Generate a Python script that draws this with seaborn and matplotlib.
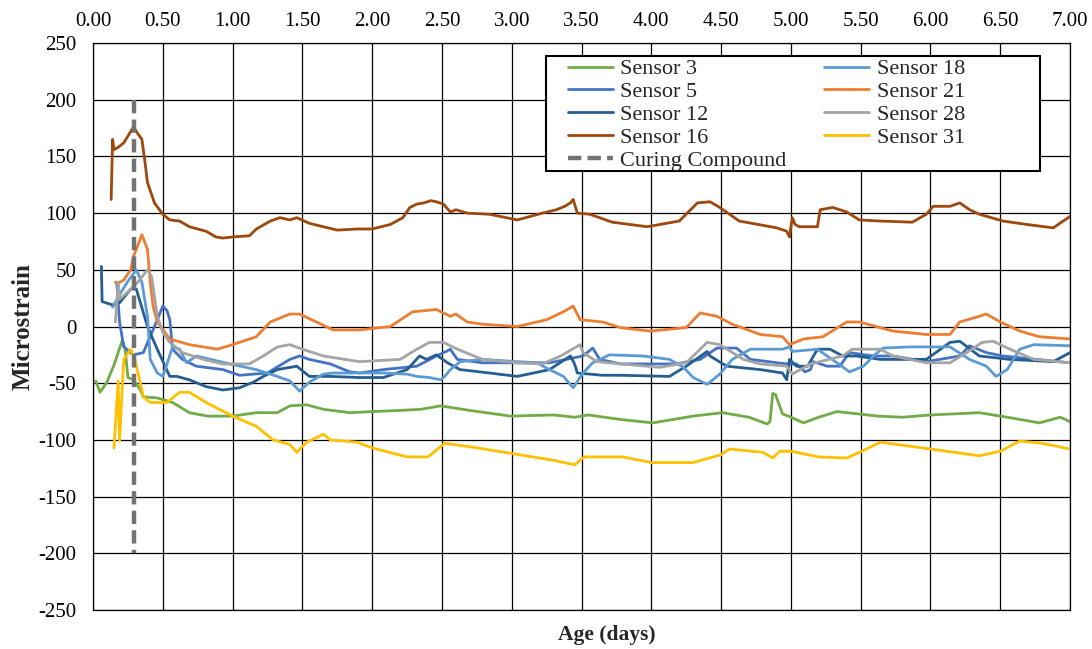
import numpy as np
import pandas as pd
import matplotlib
matplotlib.use("Agg")
import matplotlib.pyplot as plt
from matplotlib.patches import Rectangle
import seaborn as sns

# ---- strain readings (age in days, microstrain) ----
s3_day = [0.02, 0.05, 0.10, 0.15, 0.21, 0.23, 0.25, 0.29, 0.34, 0.36, 0.46, 0.57, 0.69, 0.82, 1.00,
          1.17, 1.32, 1.41, 1.53, 1.65, 1.84, 2.00, 2.20, 2.35, 2.49, 2.70, 2.99, 3.30, 3.45, 3.55,
          3.78, 4.01, 4.30, 4.51, 4.70, 4.83, 4.85, 4.87, 4.89, 4.91, 4.94, 5.00, 5.09, 5.20, 5.33,
          5.62, 5.80, 6.00, 6.35, 6.55, 6.78, 6.93, 7.00]
s3_val = [-48, -58, -49, -34, -12, -20, -45, -47, -56, -62, -63, -67, -76, -79, -79,
          -76, -76, -70, -69, -73, -76, -75, -74, -73, -70, -74, -79, -78, -80, -78,
          -82, -85, -79, -76, -80, -86, -84, -59, -60, -67, -77, -80, -85, -80, -75,
          -79, -80, -78, -76, -80, -85, -80, -84]

s5_day = [0.17, 0.19, 0.22, 0.29, 0.36, 0.43, 0.50, 0.53, 0.55, 0.57, 0.64, 0.74, 0.93, 1.05, 1.25,
          1.41, 1.48, 1.55, 1.70, 1.84, 1.91, 2.08, 2.32, 2.46, 2.53, 2.56, 2.61, 2.79, 3.04, 3.27,
          3.51, 3.58, 3.63, 3.78, 4.18, 4.35, 4.47, 4.61, 4.71, 4.97, 5.04, 5.10, 5.14, 5.16, 5.26,
          5.35, 5.42, 5.59, 5.73, 5.97, 6.21, 6.28, 6.40, 6.52, 6.76, 7.00]
s5_val = [39, 4, -18, -25, -23, -3, 18, 14, 6, -20, -29, -35, -38, -43, -41,
          -29, -26, -29, -33, -40, -41, -38, -35, -26, -22, -20, -29, -32, -32, -32,
          -26, -19, -29, -33, -33, -29, -19, -19, -29, -33, -33, -40, -38, -31, -35,
          -35, -23, -26, -26, -31, -26, -17, -23, -26, -29, -32]

s12_day = [0.06, 0.065, 0.14, 0.19, 0.27, 0.31, 0.39, 0.46, 0.55, 0.60, 0.69, 0.81, 0.93, 1.05, 1.15,
           1.22, 1.32, 1.46, 1.55, 1.70, 1.91, 2.08, 2.25, 2.34, 2.39, 2.46, 2.54, 2.63, 2.84, 3.04,
           3.27, 3.42, 3.45, 3.47, 3.65, 3.78, 4.13, 4.25, 4.40, 4.42, 4.54, 4.78, 4.94, 4.97, 4.99,
           5.04, 5.12, 5.19, 5.28, 5.37, 5.47, 5.64, 5.97, 6.14, 6.21, 6.35, 6.57, 6.88, 7.00]
s12_val = [53, 22, 19, 21, 33, 33, 0, -20, -44, -44, -47, -53, -56, -54, -49,
           -44, -38, -35, -44, -44, -45, -45, -38, -26, -29, -25, -32, -38, -41, -44,
           -38, -26, -33, -41, -43, -43, -44, -35, -22, -26, -35, -38, -41, -47, -29,
           -35, -35, -20, -20, -26, -26, -29, -29, -14, -13, -26, -29, -31, -23]

s16_day = [0.13, 0.14, 0.15, 0.18, 0.22, 0.27, 0.29, 0.31, 0.35, 0.37, 0.39, 0.44, 0.50, 0.55, 0.62,
           0.69, 0.81, 0.88, 0.93, 1.00, 1.12, 1.17, 1.27, 1.34, 1.41, 1.46, 1.55, 1.65, 1.75, 1.89,
           2.00, 2.13, 2.22, 2.27, 2.32, 2.37, 2.42, 2.46, 2.51, 2.56, 2.60, 2.68, 2.84, 3.04, 3.22,
           3.32, 3.38, 3.42, 3.44, 3.47, 3.56, 3.72, 3.97, 4.20, 4.33, 4.42, 4.49, 4.63, 4.90, 4.97,
           4.99, 5.01, 5.03, 5.06, 5.19, 5.21, 5.30, 5.40, 5.49, 5.64, 5.87, 5.97, 6.02, 6.14, 6.21,
           6.28, 6.35, 6.52, 6.69, 6.88, 6.95, 7.00]
s16_val = [112, 165, 156, 158, 162, 172, 176, 172, 165, 147, 127, 109, 99, 94, 93,
           88, 84, 79, 78, 79, 80, 86, 93, 96, 94, 96, 91, 88, 85, 86,
           86, 90, 96, 105, 108, 109, 111, 110, 108, 101, 103, 100, 99, 94, 100,
           103, 106, 109, 112, 100, 99, 92, 88, 93, 109, 110, 105, 93, 87, 84,
           79, 96, 90, 88, 88, 103, 105, 101, 94, 93, 92, 99, 106, 106, 109,
           103, 99, 93, 90, 87, 93, 97]

s18_day = [0.14, 0.20, 0.25, 0.31, 0.35, 0.39, 0.41, 0.46, 0.50, 0.57, 0.62, 0.67, 0.74, 0.98, 1.17,
           1.32, 1.41, 1.48, 1.55, 1.65, 1.72, 1.91, 2.08, 2.25, 2.32, 2.41, 2.49, 2.52, 2.56, 2.63,
           2.79, 3.04, 3.18, 3.27, 3.37, 3.44, 3.51, 3.58, 3.70, 3.94, 4.13, 4.23, 4.30, 4.40, 4.49,
           4.58, 4.71, 4.94, 4.99, 5.01, 5.19, 5.33, 5.42, 5.52, 5.60, 5.66, 5.85, 6.14, 6.28, 6.40,
           6.47, 6.55, 6.64, 6.74, 7.00]
s18_val = [17, 30, 40, 50, 39, 9, -29, -41, -44, -18, -20, -32, -26, -33, -38,
           -44, -48, -57, -49, -42, -41, -41, -41, -42, -44, -45, -47, -44, -38, -31,
           -29, -31, -32, -38, -44, -54, -41, -32, -25, -26, -29, -36, -45, -51, -42,
           -29, -20, -20, -18, -22, -20, -32, -40, -35, -25, -19, -18, -18, -29, -35,
           -44, -38, -20, -16, -17]

s21_day = [0.16, 0.19, 0.22, 0.27, 0.29, 0.31, 0.35, 0.39, 0.41, 0.43, 0.46, 0.55, 0.69, 0.89, 1.00,
           1.17, 1.27, 1.41, 1.48, 1.60, 1.72, 1.91, 2.13, 2.29, 2.46, 2.56, 2.60, 2.68, 2.79, 3.04,
           3.25, 3.37, 3.44, 3.49, 3.65, 3.78, 3.99, 4.25, 4.35, 4.47, 4.58, 4.78, 4.94, 4.99, 5.09,
           5.23, 5.40, 5.49, 5.73, 5.97, 6.14, 6.21, 6.35, 6.40, 6.50, 6.64, 6.78, 7.00]
s21_val = [39, 39, 41, 50, 62, 68, 81, 68, 39, 18, 4, -11, -16, -20, -16,
           -9, 4, 11, 11, 4, -3, -3, 0, 13, 15, 9, 11, 4, 2, 0,
           6, 13, 18, 6, 4, -1, -4, -1, 12, 9, 2, -7, -9, -16, -11,
           -9, 4, 4, -4, -7, -7, 4, 9, 11, 4, -4, -9, -11]

s28_day = [0.16, 0.18, 0.19, 0.27, 0.32, 0.39, 0.42, 0.46, 0.50, 0.55, 0.64, 0.79, 0.93, 1.12, 1.22,
           1.32, 1.41, 1.50, 1.65, 1.91, 2.20, 2.32, 2.41, 2.51, 2.61, 2.79, 3.04, 3.22, 3.35, 3.49,
           3.51, 3.61, 3.78, 4.06, 4.25, 4.40, 4.49, 4.66, 4.78, 4.97, 5.01, 5.14, 5.37, 5.44, 5.64,
           5.73, 5.97, 6.14, 6.26, 6.37, 6.45, 6.57, 6.74, 7.00]
s28_val = [4, 39, 24, 33, 39, 50, 44, 9, -5, -14, -23, -29, -33, -33, -26,
           -18, -16, -20, -26, -31, -29, -20, -14, -14, -20, -29, -32, -33, -26, -16,
           -23, -31, -33, -36, -32, -14, -16, -29, -33, -35, -42, -33, -26, -20, -20,
           -26, -32, -32, -23, -14, -13, -20, -29, -32]

s31_day = [0.15, 0.18, 0.19, 0.22, 0.27, 0.30, 0.36, 0.41, 0.53, 0.62, 0.69, 0.81, 1.00, 1.17, 1.29,
           1.41, 1.46, 1.53, 1.65, 1.70, 1.89, 2.00, 2.25, 2.40, 2.45, 2.52, 2.70, 3.00, 3.30, 3.45,
           3.52, 3.80, 4.00, 4.30, 4.50, 4.56, 4.80, 4.87, 4.92, 5.00, 5.20, 5.40, 5.49, 5.64, 6.00,
           6.35, 6.50, 6.64, 6.80, 7.00]
s31_val = [-107, -48, -101, -29, -20, -29, -62, -67, -67, -58, -58, -67, -79, -88, -100,
           -104, -111, -102, -95, -100, -102, -107, -115, -115, -110, -103, -106, -112, -118, -122,
           -115, -115, -120, -120, -113, -108, -111, -116, -110, -110, -115, -116, -111, -102, -108,
           -114, -110, -101, -103, -108]

# curing compound application time
curing_day = [0.29, 0.29]
curing_val = [200, -200]

x_ticks = np.arange(0, 7.01, 0.5)
y_ticks = np.arange(-250, 251, 50)

series = [
    ("Sensor 3", s3_day, s3_val, "#70AD47"),
    ("Sensor 5", s5_day, s5_val, "#4472C4"),
    ("Sensor 12", s12_day, s12_val, "#255E91"),
    ("Sensor 16", s16_day, s16_val, "#9E480E"),
    ("Sensor 18", s18_day, s18_val, "#5B9BD5"),
    ("Sensor 21", s21_day, s21_val, "#ED7D31"),
    ("Sensor 28", s28_day, s28_val, "#A5A5A5"),
    ("Sensor 31", s31_day, s31_val, "#FFC000"),
]

sns.set_style("white")
plt.rcParams["font.family"] = ["Liberation Serif", "DejaVu Serif"]

fig = plt.figure(figsize=(10.92, 6.49), dpi=100)
ax = fig.add_axes([0.0852, 0.0601, 0.8947, 0.8736])

handles = {}
for name, d, v, c in series:
    df = pd.DataFrame({"day": d, "strain": v})
    sns.lineplot(data=df, x="day", y="strain", color=c, lw=2.0, sort=False,
                 estimator=None, ax=ax, label=name)
    handles[name] = ax.get_lines()[-1]

cdf = pd.DataFrame({"day": curing_day, "strain": curing_val})
sns.lineplot(data=cdf, x="day", y="strain", color="#737373", lw=3.2, sort=False,
             estimator=None, ax=ax, label="Curing Compound")
cl = ax.get_lines()[-1]
cl.set_dashes((3.0, 1.4))
handles["Curing Compound"] = cl

ax.set_xlim(0, 7)
ax.set_ylim(-250, 250)
ax.set_xticks(x_ticks)
ax.set_xticklabels([f"{t:.2f}" for t in x_ticks])
ax.set_yticks(y_ticks)
ax.set_yticklabels([f"{t:d}" for t in y_ticks])
ax.xaxis.tick_top()
ax.tick_params(axis="both", length=0, labelsize=15, colors="black")
ax.tick_params(axis="x", pad=9)
ax.tick_params(axis="y", pad=12)
ax.grid(True, color="black", lw=0.9)
for sp in ax.spines.values():
    sp.set_color("black")
    sp.set_linewidth(0.9)

ax.set_xlabel("Age (days)", fontsize=15.5, fontweight="bold")
ax.xaxis.set_label_position("bottom")
ax.xaxis.set_label_coords(0.526, -0.026)
ax.set_ylabel("Microstrain", fontsize=18, fontweight="bold")
ax.yaxis.set_label_coords(-0.06, 0.5)

# legend box drawn as its own frame so it can be wider than the entries
frame = Rectangle((0.4637, 0.7743), 0.5056, 0.2028, transform=ax.transAxes,
                  facecolor="white", edgecolor="black", lw=1.5, zorder=4.5)
ax.add_patch(frame)

order = ["Sensor 3", "Sensor 5", "Sensor 12", "Sensor 16", "Curing Compound",
         "Sensor 18", "Sensor 21", "Sensor 28", "Sensor 31"]
leg = ax.legend([handles[k] for k in order], order, ncol=2, loc="upper left",
                bbox_to_anchor=(0.4862, 0.972), fontsize=16, frameon=False,
                handlelength=2.0, handletextpad=0.35, labelspacing=0.1,
                borderpad=0, columnspacing=1.7, borderaxespad=0)
leg.set_zorder(5)

fig.savefig("out.png", dpi=100)
